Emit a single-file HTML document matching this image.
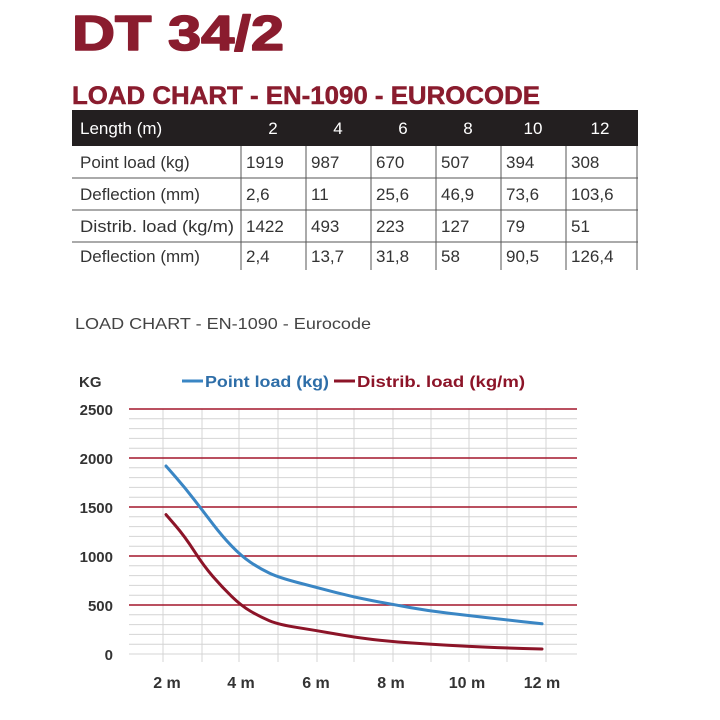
<!DOCTYPE html>
<html><head><meta charset="utf-8"><style>
html,body{margin:0;padding:0;background:#fff;}
svg{display:block;font-family:"Liberation Sans",sans-serif;}
</style></head><body>
<svg width="720" height="720" viewBox="0 0 720 720" xmlns="http://www.w3.org/2000/svg">
<rect width="720" height="720" fill="#fff"/>
<text x="72" y="50" font-size="49" font-weight="bold" fill="#8a1c2e" stroke="#8a1c2e" stroke-width="1.6" stroke-linejoin="round" textLength="212" lengthAdjust="spacingAndGlyphs">DT 34/2</text>
<text x="72" y="104" font-size="25" font-weight="bold" fill="#8a1c2e" stroke="#8a1c2e" stroke-width="0.5" textLength="468" lengthAdjust="spacingAndGlyphs">LOAD CHART - EN-1090 - EUROCODE</text>
<!-- table -->
<rect x="72" y="110" width="566" height="36" fill="#231f20"/>
<g font-size="17" fill="#fff">
<text x="80" y="134">Length (m)</text>
<text x="273" y="134" text-anchor="middle">2</text>
<text x="338" y="134" text-anchor="middle">4</text>
<text x="403" y="134" text-anchor="middle">6</text>
<text x="468" y="134" text-anchor="middle">8</text>
<text x="533" y="134" text-anchor="middle">10</text>
<text x="600" y="134" text-anchor="middle">12</text>
</g>
<g stroke="#555" stroke-width="1">
<line x1="72" y1="178" x2="638" y2="178"/>
<line x1="72" y1="210" x2="638" y2="210"/>
<line x1="72" y1="242" x2="638" y2="242"/>
<line x1="241" y1="146" x2="241" y2="270"/>
<line x1="306" y1="146" x2="306" y2="270"/>
<line x1="371" y1="146" x2="371" y2="270"/>
<line x1="436" y1="146" x2="436" y2="270"/>
<line x1="501" y1="146" x2="501" y2="270"/>
<line x1="566" y1="146" x2="566" y2="270"/>
<line x1="637" y1="146" x2="637" y2="270"/>
</g>
<g font-size="17" fill="#333">
<text x="80" y="168">Point load (kg)</text>
<text x="246" y="168">1919</text><text x="311" y="168">987</text><text x="376" y="168">670</text><text x="441" y="168">507</text><text x="506" y="168">394</text><text x="571" y="168">308</text>
<text x="80" y="200">Deflection (mm)</text>
<text x="246" y="200">2,6</text><text x="311" y="200">11</text><text x="376" y="200">25,6</text><text x="441" y="200">46,9</text><text x="506" y="200">73,6</text><text x="571" y="200">103,6</text>
<text x="80" y="232" textLength="154" lengthAdjust="spacingAndGlyphs">Distrib. load (kg/m)</text>
<text x="246" y="232">1422</text><text x="311" y="232">493</text><text x="376" y="232">223</text><text x="441" y="232">127</text><text x="506" y="232">79</text><text x="571" y="232">51</text>
<text x="80" y="262">Deflection (mm)</text>
<text x="246" y="262">2,4</text><text x="311" y="262">13,7</text><text x="376" y="262">31,8</text><text x="441" y="262">58</text><text x="506" y="262">90,5</text><text x="571" y="262">126,4</text>
</g>
<text x="75" y="329" font-size="16" fill="#444" textLength="296" lengthAdjust="spacingAndGlyphs">LOAD CHART - EN-1090 - Eurocode</text>
<!-- chart -->
<g stroke="#d4d4d4" stroke-width="1">
<line x1="129" x2="577" y1="418.8" y2="418.8"/><line x1="129" x2="577" y1="428.6" y2="428.6"/><line x1="129" x2="577" y1="438.4" y2="438.4"/><line x1="129" x2="577" y1="448.2" y2="448.2"/>
<line x1="129" x2="577" y1="467.8" y2="467.8"/><line x1="129" x2="577" y1="477.6" y2="477.6"/><line x1="129" x2="577" y1="487.4" y2="487.4"/><line x1="129" x2="577" y1="497.2" y2="497.2"/>
<line x1="129" x2="577" y1="516.8" y2="516.8"/><line x1="129" x2="577" y1="526.6" y2="526.6"/><line x1="129" x2="577" y1="536.4" y2="536.4"/><line x1="129" x2="577" y1="546.2" y2="546.2"/>
<line x1="129" x2="577" y1="565.8" y2="565.8"/><line x1="129" x2="577" y1="575.6" y2="575.6"/><line x1="129" x2="577" y1="585.4" y2="585.4"/><line x1="129" x2="577" y1="595.2" y2="595.2"/>
<line x1="129" x2="577" y1="614.8" y2="614.8"/><line x1="129" x2="577" y1="624.6" y2="624.6"/><line x1="129" x2="577" y1="634.4" y2="634.4"/><line x1="129" x2="577" y1="644.2" y2="644.2"/>
<line x1="129" x2="577" y1="654" y2="654"/>
<line x1="163" x2="163" y1="409" y2="662"/><line x1="202" x2="202" y1="409" y2="662"/><line x1="239" x2="239" y1="409" y2="662"/><line x1="278" x2="278" y1="409" y2="662"/><line x1="317" x2="317" y1="409" y2="662"/><line x1="354" x2="354" y1="409" y2="662"/><line x1="393" x2="393" y1="409" y2="662"/><line x1="431" x2="431" y1="409" y2="662"/><line x1="469" x2="469" y1="409" y2="662"/><line x1="507" x2="507" y1="409" y2="662"/><line x1="546" x2="546" y1="409" y2="662"/>
</g>
<g stroke="#a3162c" stroke-width="1.5">
<line x1="129" x2="577" y1="409" y2="409"/><line x1="129" x2="577" y1="458" y2="458"/><line x1="129" x2="577" y1="507" y2="507"/><line x1="129" x2="577" y1="556" y2="556"/><line x1="129" x2="577" y1="605" y2="605"/>
</g>
<path fill="none" stroke="#3a86c4" stroke-width="3" stroke-linecap="round" d="M166,466 L175.4,476.7 Q184.8,487.4 194.2,499.65 Q203.6,511.9 213,524.15 Q222.4,536.4 231.8,546.2 Q241.2,556 250.6,562.35 Q260,568.7 269.4,573.15 Q278.8,577.6 297.6,582.5 Q316.4,587.4 335.2,592.3 Q354,597.2 372.8,600.75 Q391.6,604.3 410.4,607.6 Q429.2,610.9 448,613.15 Q466.8,615.4 485.6,617.55 Q504.4,619.7 523.2,621.75 L542,623.8"/>
<path fill="none" stroke="#8c1428" stroke-width="3" stroke-linecap="round" d="M166,514.6 L175.4,525.5 Q184.8,536.4 194.2,551.1 Q203.6,565.8 213,576.6 Q222.4,587.4 231.8,596.55 Q241.2,605.7 250.6,611.25 Q260,616.8 269.4,620.7 Q278.8,624.6 297.6,627.55 Q316.4,630.5 335.2,633.9 Q354,637.3 372.8,639.45 Q391.6,641.6 410.4,642.9 Q429.2,644.2 448,645.25 Q466.8,646.3 485.6,647.1 Q504.4,647.9 523.2,648.45 L542,649"/>
<g font-size="15" font-weight="bold" fill="#333" text-anchor="end">
<text x="113" y="415">2500</text><text x="113" y="464">2000</text><text x="113" y="513">1500</text><text x="113" y="562">1000</text><text x="113" y="611">500</text><text x="113" y="660">0</text>
</g>
<text x="79" y="387" font-size="15" font-weight="bold" fill="#333">KG</text>
<line x1="182" y1="381" x2="203" y2="381" stroke="#3a86c4" stroke-width="3"/>
<text x="205" y="387" font-size="16" font-weight="bold" fill="#2e6ea8" textLength="124" lengthAdjust="spacingAndGlyphs">Point load (kg)</text>
<line x1="334" y1="381" x2="355" y2="381" stroke="#8c1428" stroke-width="3"/>
<text x="357" y="387" font-size="16" font-weight="bold" fill="#8c1428" textLength="168" lengthAdjust="spacingAndGlyphs">Distrib. load (kg/m)</text>
<g font-size="16" font-weight="bold" fill="#333" text-anchor="middle">
<text x="167" y="688">2 m</text><text x="241" y="688">4 m</text><text x="316" y="688">6 m</text><text x="391" y="688">8 m</text><text x="467" y="688">10 m</text><text x="542" y="688">12 m</text>
</g>
</svg>
</body></html>
